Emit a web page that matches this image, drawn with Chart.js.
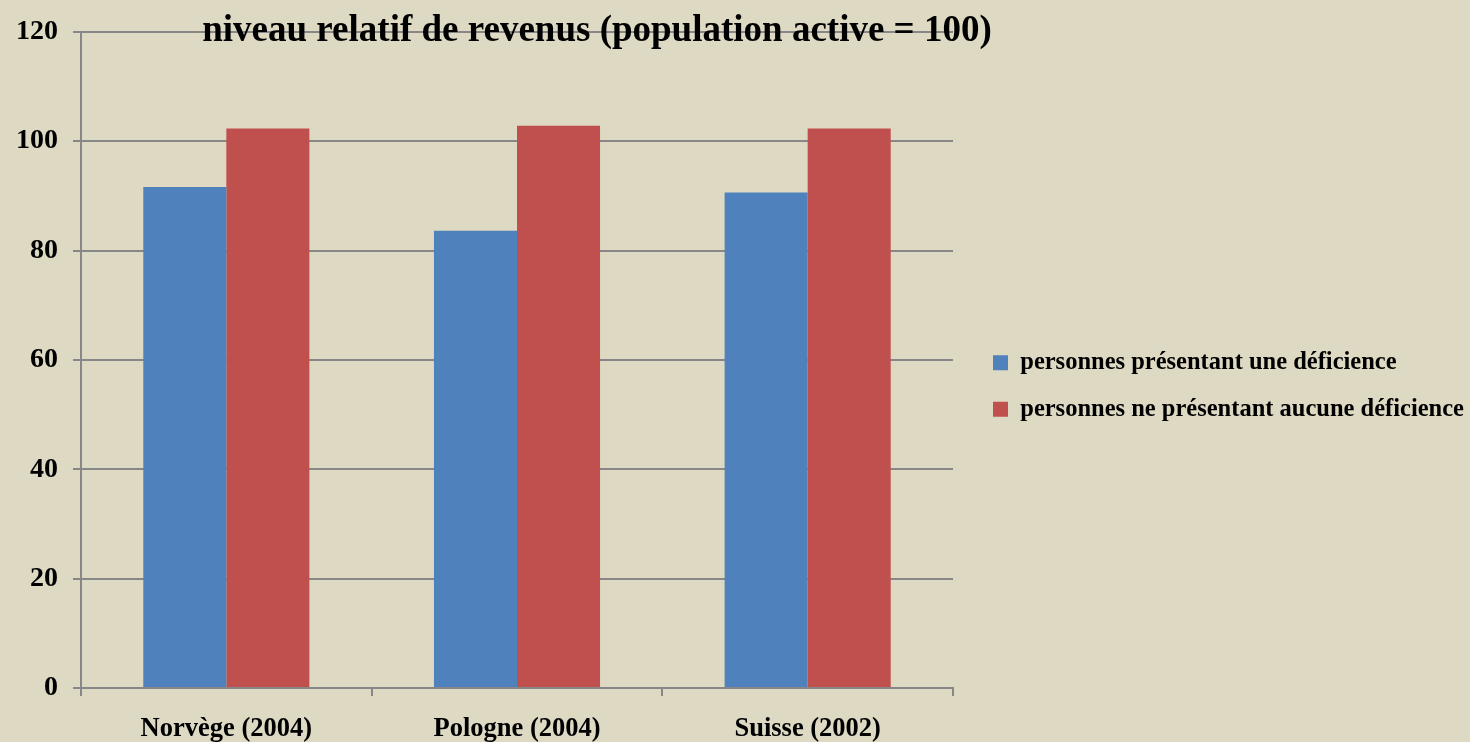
<!DOCTYPE html>
<html>
<head>
<meta charset="utf-8">
<script src="https://cdn.jsdelivr.net/npm/chart.js@4"></script>
<style>
  html, body { margin: 0; padding: 0; background: #DDD9C3; }
  #wrap { width: 1470px; height: 742px; position: relative; }
</style>
</head>
<body>
<div id="wrap"><canvas id="c" width="1470" height="742"></canvas></div>
<script>
const titleText = "niveau relatif de revenus (population active = 100)";
const categories = ["Norvège (2004)", "Pologne (2004)", "Suisse (2002)"];
const seriesNames = ["personnes présentant une déficience", "personnes ne présentant aucune déficience"];
const withDisability = [91.6, 83.6, 90.6];
const withoutDisability = [102.3, 102.8, 102.3];
const yTicks = [0, 20, 40, 60, 80, 100, 120];

const GRID = "#878787";
const SERIF = "'Liberation Serif', 'Times New Roman', serif";

const titlePlugin = {
  id: 'freeTitle',
  afterDraw(chart) {
    const ctx = chart.ctx;
    ctx.save();
    ctx.font = "bold 37px " + SERIF;
    ctx.fillStyle = "#000";
    ctx.textAlign = "center";
    ctx.textBaseline = "middle";
    ctx.fillText(titleText, 597, 31);
    ctx.restore();
  }
};
const legendWidthPlugin = {
  id: 'legendWidth',
  beforeInit(chart) {
    const orig = chart.legend.fit;
    chart.legend.fit = function () {
      orig.bind(chart.legend)();
      this.width = 499;
    };
  }
};

new Chart(document.getElementById('c'), {
  type: 'bar',
  data: {
    labels: categories,
    datasets: [
      { label: seriesNames[0], data: withDisability, backgroundColor: '#4F81BD', borderWidth: 0 },
      { label: seriesNames[1], data: withoutDisability, backgroundColor: '#C0504D', borderWidth: 0 }
    ]
  },
  options: {
    responsive: false,
    animation: false,
    devicePixelRatio: 1,
    layout: { padding: { top: 30, left: 0, right: 0, bottom: 0 } },
    datasets: { bar: { categoryPercentage: 0.5714, barPercentage: 1 } },
    plugins: {
      title: { display: false },
      tooltip: { enabled: false },
      legend: {
        position: 'right',
        align: 'center',
        labels: {
          boxWidth: 15,
          boxHeight: 15,
          padding: 22,
          color: '#000',
          font: { family: SERIF, size: 24.5, weight: 'bold' }
        }
      }
    },
    scales: {
      x: {
        grid: { display: true, drawOnChartArea: false, drawTicks: true, tickLength: 8, color: GRID, lineWidth: 2, offset: true },
        border: { display: true, color: GRID, width: 2 },
        ticks: { color: '#000', padding: 17, font: { family: SERIF, size: 26.5, weight: 'bold' } },
        afterFit(s) { s.height = 54; }
      },
      y: {
        min: 0, max: 120,
        afterBuildTicks(s) { s.ticks = yTicks.map(v => ({ value: v })); },
        grid: { color: GRID, lineWidth: 2, drawTicks: true, tickLength: 8 },
        border: { display: true, color: GRID, width: 2 },
        ticks: { color: '#000', padding: 15, font: { family: SERIF, size: 28, weight: 'bold' } },
        afterFit(s) { s.width = 81; }
      },
      gap: {
        type: 'linear',
        position: 'right',
        display: true,
        grid: { display: false, drawTicks: false },
        border: { display: false },
        ticks: { display: false },
        afterFit(s) { s.width = 18; }
      }
    }
  },
  plugins: [titlePlugin, legendWidthPlugin]
});
</script>
</body>
</html>
